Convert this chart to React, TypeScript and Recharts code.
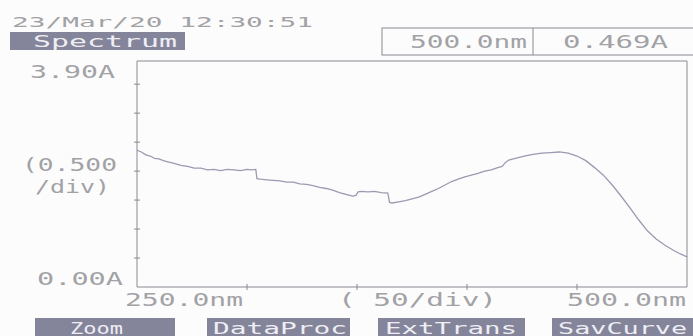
import React from "react";
import { Line, LineChart, XAxis, YAxis } from "recharts";

const wavelengths = [
  250, 252, 254, 256, 258, 260, 262, 264, 266, 268, 270, 273, 276, 279, 282,
  285, 288, 291, 294, 297, 300, 302, 304, 304.5, 306, 309, 312, 315, 318, 321,
  324, 327, 330, 333, 336, 339, 342, 345, 348, 349.5, 350.5, 352, 355, 358,
  361, 364, 364.8, 366, 369, 372, 375, 378, 381, 384, 387, 390, 393, 396, 399,
  402, 405, 408, 411, 414, 416, 417.5, 419, 422, 426, 430, 434, 438, 442, 446,
  450, 454, 458, 462, 466, 470, 474, 478, 482, 486, 490, 494, 497, 500,
];
const absorbance = [
  2.36, 2.33, 2.28, 2.26, 2.22, 2.21, 2.18, 2.16, 2.14, 2.12, 2.1, 2.08, 2.05,
  2.05, 2.02, 2.03, 2.01, 2.03, 2.02, 2.01, 2.03, 2.02, 2.03, 1.87, 1.86, 1.85,
  1.84, 1.83, 1.81, 1.81, 1.78, 1.77, 1.75, 1.72, 1.7, 1.67, 1.63, 1.6, 1.57,
  1.58, 1.64, 1.65, 1.64, 1.65, 1.63, 1.62, 1.46, 1.45, 1.47, 1.49, 1.52, 1.55,
  1.6, 1.65, 1.7, 1.76, 1.82, 1.86, 1.9, 1.93, 1.96, 2.0, 2.02, 2.06, 2.08,
  2.15, 2.19, 2.22, 2.26, 2.29, 2.31, 2.32, 2.33, 2.31, 2.26, 2.18, 2.06, 1.93,
  1.76, 1.57, 1.37, 1.16, 0.97, 0.83, 0.72, 0.63, 0.57, 0.52,
];
const xTicks = [250, 300, 350, 400, 450, 500];
const yTicks = [0, 0.5, 1, 1.5, 2, 2.5, 3, 3.5, 3.9];
const buttons = ["Zoom", "DataProc", "ExtTrans", "SavCurve"];

const data = wavelengths.map((nm, i) => ({ nm, a: absorbance[i] }));

const FONT = "DejaVu Sans Mono";
const TEXT = "#a2a2a6";
const AXIS = "#8a8a92";
const BOX = "#84849a";

function PixText({ x, y, len, size = 17, anchor = "start", fill = TEXT, children }: any) {
  return (
    <text
      x={x}
      y={y}
      fontFamily={FONT}
      fontSize={size}
      textAnchor={anchor}
      dominantBaseline="central"
      textLength={len}
      lengthAdjust="spacingAndGlyphs"
      fill={fill}
    >
      {children}
    </text>
  );
}

function LeftTick(p: any) {
  const v = p.payload.value;
  if (v === 3.9)
    return <PixText x={p.x - 22} y={p.y + 11} len={85} anchor="end">3.90A</PixText>;
  if (v === 0)
    return <PixText x={p.x - 14} y={p.y - 8} len={86} anchor="end">0.00A</PixText>;
  return <line x1={p.x - 3} x2={p.x + 3} y1={p.y} y2={p.y} stroke={AXIS} />;
}

function RightTick(p: any) {
  const v = p.payload.value;
  if (v === 0 || v === 3.9) return <g />;
  return <line x1={p.x - 3} x2={p.x + 3} y1={p.y} y2={p.y} stroke={AXIS} />;
}

function TopTick(p: any) {
  const v = p.payload.value;
  if (v === 250 || v === 500) return <g />;
  return <line x1={p.x} x2={p.x} y1={p.y - 3} y2={p.y + 3} stroke={AXIS} />;
}

function BottomTick(p: any) {
  const v = p.payload.value;
  if (v === 250)
    return <PixText x={p.x - 12} y={p.y + 13} len={118}>250.0nm</PixText>;
  if (v === 500)
    return <PixText x={p.x + 5} y={p.y + 13} len={119} anchor="end">500.0nm</PixText>;
  return <line x1={p.x} x2={p.x} y1={p.y - 3} y2={p.y + 3} stroke={AXIS} />;
}

function YLabel({ viewBox }: any) {
  const { x, y, width } = viewBox;
  return (
    <g>
      <PixText x={x + width - 20} y={y + 104} len={95} anchor="end">(0.500</PixText>
      <PixText x={x + width - 27} y={y + 126} len={75} anchor="end">/div)</PixText>
    </g>
  );
}

function XLabel({ viewBox }: any) {
  const { x, y } = viewBox;
  return <PixText x={x + 201} y={y + 13} len={159}>(  50/div)</PixText>;
}

const buttonBoxes = [
  { x: 35, w: 140, tx: 70, tl: 53 },
  { x: 207, w: 143, tx: 213, tl: 134 },
  { x: 378, w: 147, tx: 385, tl: 132 },
  { x: 552, w: 145, tx: 558, tl: 129 },
];

export default function App() {
  return (
    <div style={{ position: "absolute", left: 0, top: 0, width: 693, height: 336, background: "#fcfcfc" }}>
      <LineChart width={693} height={336} data={data} margin={{ top: 0, right: 0, bottom: 0, left: 0 }}>
        <XAxis
          xAxisId="b"
          dataKey="nm"
          type="number"
          domain={[250, 500]}
          ticks={xTicks}
          height={49}
          tickSize={0}
          tickMargin={0}
          tickLine={false}
          axisLine={{ stroke: AXIS }}
          tick={(p: any) => <BottomTick {...p} />}
          label={{ content: (p: any) => <XLabel {...p} /> }}
        />
        <XAxis
          xAxisId="t"
          orientation="top"
          type="number"
          domain={[250, 500]}
          ticks={xTicks}
          height={61}
          tickSize={0}
          tickMargin={0}
          tickLine={false}
          axisLine={{ stroke: AXIS }}
          tick={(p: any) => <TopTick {...p} />}
        />
        <YAxis
          yAxisId="l"
          type="number"
          domain={[0, 3.9]}
          ticks={yTicks}
          width={137}
          tickSize={0}
          tickMargin={0}
          tickLine={false}
          axisLine={{ stroke: AXIS }}
          tick={(p: any) => <LeftTick {...p} />}
          label={{ content: (p: any) => <YLabel {...p} /> }}
        />
        <YAxis
          yAxisId="r"
          orientation="right"
          type="number"
          domain={[0, 3.9]}
          ticks={yTicks}
          width={6}
          tickSize={0}
          tickMargin={0}
          tickLine={false}
          axisLine={{ stroke: AXIS }}
          tick={(p: any) => <RightTick {...p} />}
        />
        <Line
          xAxisId="b"
          yAxisId="l"
          dataKey="a"
          type="linear"
          stroke="#9a9ab2"
          strokeWidth={1.3}
          dot={false}
          isAnimationActive={false}
        />
      </LineChart>
      <svg width={693} height={336} style={{ position: "absolute", left: 0, top: 0, pointerEvents: "none" }}>
        <PixText x={12} y={22} len={301} size={14}>23/Mar/20 12:30:51</PixText>
        <rect x={10} y={32} width={175} height={18} fill={BOX} />
        <PixText x={33} y={41} len={144} size={16} fill="#eeeef4">Spectrum</PixText>
        <rect x={382} y={28} width={320} height={27} fill="none" stroke={AXIS} />
        <line x1={533} x2={533} y1={28} y2={55} stroke={AXIS} />
        <PixText x={410} y={42} len={117}>500.0nm</PixText>
        <PixText x={563} y={42} len={105}>0.469A</PixText>
        {buttons.map((b, i) => (
          <g key={b}>
            <rect x={buttonBoxes[i].x} y={318} width={buttonBoxes[i].w} height={20} fill={BOX} />
            <PixText x={buttonBoxes[i].tx} y={328} len={buttonBoxes[i].tl} size={16} fill="#eeeef4">
              {b}
            </PixText>
          </g>
        ))}
      </svg>
    </div>
  );
}
